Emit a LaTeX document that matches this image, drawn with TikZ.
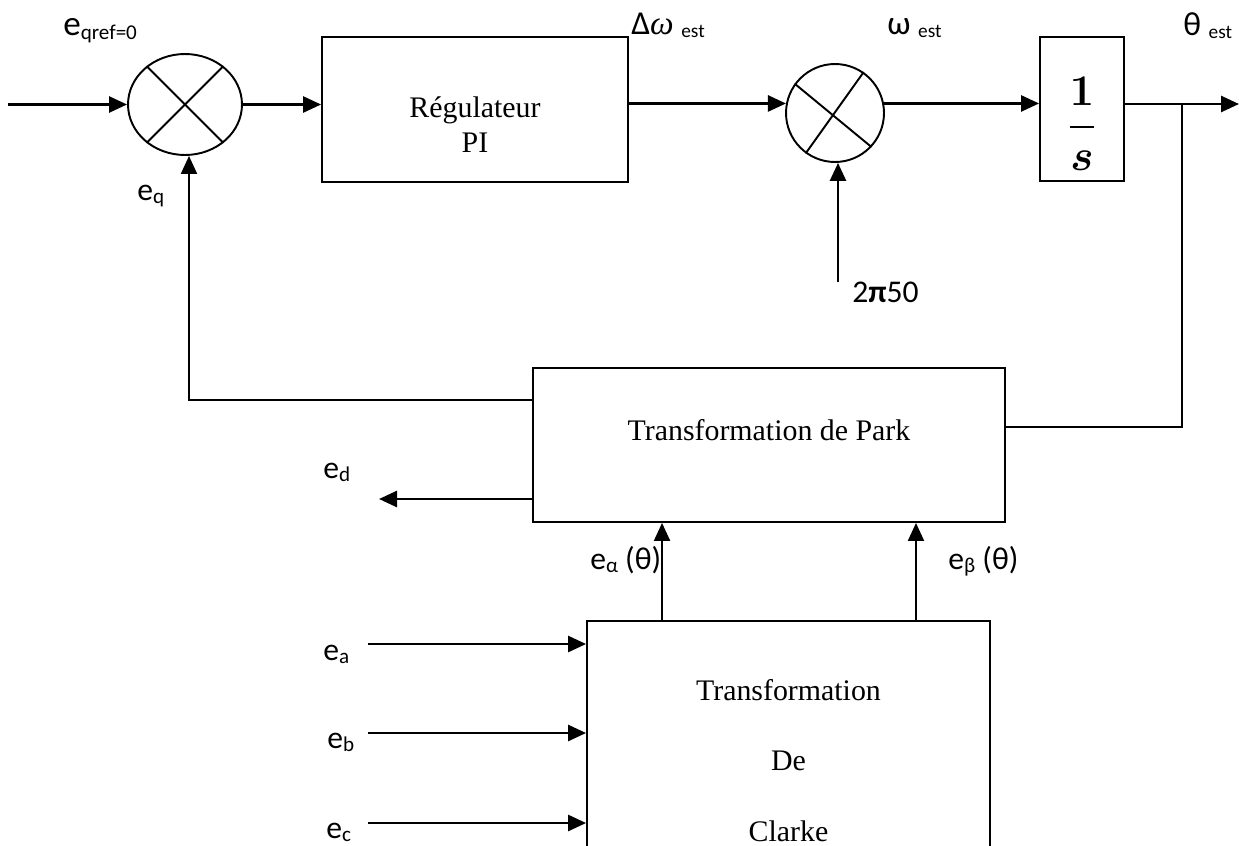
\documentclass[tikz,border=0pt]{standalone}
\usepackage{fontspec}
\usepackage{amsmath}
\usepackage{bm}
\setmainfont{Liberation Serif}
\newfontfamily\lblfont{Carlito}
\usetikzlibrary{shapes.geometric,arrows.meta}

\newcommand{\idx}[2][12]{\raisebox{-0.25ex}{\fontsize{#1}{#1}\selectfont #2}}

\tikzset{
  blok/.style={draw,line width=1.1pt,rectangle,inner sep=0pt},
  somme/.style={draw,line width=1.1pt,ellipse,inner sep=0pt},
  sig/.style={line width=1.5pt,->},
  sigfin/.style={line width=1.2pt,->},
  fil/.style={line width=1.1pt},
  lbl/.style={font=\lblfont\fontsize{18}{21}\selectfont,inner sep=0pt,anchor=base west},
  lblhaut/.style={lbl,font=\lblfont\fontsize{19}{22}\selectfont},
  ttl/.style={font=\fontsize{17}{20}\selectfont,align=center}
}

\begin{document}
\begin{tikzpicture}[x=0.02cm,y=-0.02cm,>={Triangle[length=0.36cm,width=0.32cm]}]
  \useasboundingbox (0,0) rectangle (1239,845);
  \clip (0,0) rectangle (1239,845);

  % blocs
  \node[somme,minimum width=2.28cm,minimum height=2.02cm] (sum1) at (185,104.5) {};
  \node[blok,minimum width=6.12cm,minimum height=2.9cm,
        label={[ttl,yshift=-0.3cm]center:Régulateur\\PI}] (pi) at (475,109.5) {};
  \node[somme,circle,minimum size=1.96cm] (sum2) at (835,113) {};
  \node[blok,minimum width=1.68cm,minimum height=2.88cm,
        label={[font=\fontsize{20}{24}\selectfont,yshift=-0.3cm]center:\scalebox{1.2}{$\bm{\dfrac{1}{s}}$}}] (inv) at (1082,109) {};
  \node[blok,minimum width=9.44cm,minimum height=3.08cm,
        label={[ttl,yshift=0.3cm]center:Transformation de Park}] (park) at (769,445) {};
  \node[blok,ttl,minimum width=8.06cm,minimum height=5.58cm] (clarke) at (788.5,760.5)
        {Transformation\\[20pt]De\\[20pt]Clarke};

  % croix des comparateurs
  \draw[fil] (sum1.135) -- (sum1.-45);
  \draw[fil] (sum1.-135) -- (sum1.45);
  \draw[fil] (sum2.144) -- (sum2.-43);
  \draw[fil] (sum2.-126) -- (sum2.55);

  % chaine directe
  \coordinate (in) at (8,104.5);
  \coordinate (out) at (1239,104);
  \coordinate (br) at (1182,104);
  \draw[sig] (in) -- (sum1.west);
  \draw[sig] (sum1.east) -- (sum1.east -| pi.west);
  \draw[sig] (sum2.169 -| pi.east) -- (sum2.169);
  \draw[sig] (sum2.11) -- (sum2.11 -| inv.west);
  \draw[sig] (inv.east |- out) -- (out);

  % retours
  \draw[fil] (br) |- ([yshift=0.36cm]park.east);
  \draw[sigfin] ([yshift=0.9cm]park.west) -| ([xshift=0.08cm]sum1.south);
  \coordinate (w0) at (838,282);
  \draw[sig] (w0) -- (w0 |- sum2.south);
  \coordinate (edout) at (379,499);
  \draw[sig] (edout -| park.west) -- (edout);
  \draw[sigfin] ([xshift=-2.53cm]clarke.north) -- ([xshift=-2.53cm]clarke.north |- park.south);
  \draw[sigfin] ([xshift=2.55cm]clarke.north) -- ([xshift=2.55cm]clarke.north |- park.south);

  % entrees de Clarke
  \coordinate (ea) at (368,644);
  \coordinate (eb) at (368,733);
  \coordinate (ec) at (368,823);
  \draw[sig] (ea) -- (ea -| clarke.west);
  \draw[sig] (eb) -- (eb -| clarke.west);
  \draw[sig] (ec) -- (ec -| clarke.west);

  % etiquettes
  \node[lbl,font=\lblfont\fontsize{20}{23}\selectfont] (lqref) at (63,35) {e\idx{qref=0}};
  \node[lblhaut] (ldw) at (631,34) {Δ{\rmfamily\itshape ω} \idx[11]{est}};
  \node[lblhaut] (lw) at (887,34) {ω \idx[11]{est}};
  \node[lblhaut] (lth) at (1183,35) {θ \idx[11]{est}};
  \node[lbl] (leq) at (137,200) {e\idx{q}};
  \node[lbl] (l2pi) at (852,302) {2\textbf{π}50};
  \node[lbl] (led) at (323,478) {e\idx{d}};
  \node[lbl] (lal) at (590,569) {e\idx{α} (θ)};
  \node[lbl] (lbe) at (948,569) {e\idx{β} (θ)};
  \node[lbl] (lea) at (323,660) {e\idx{a}};
  \node[lbl] (leb) at (327,748) {e\idx{b}};
  \node[lbl] (lec) at (326,838) {e\idx{c}};
\end{tikzpicture}
\end{document}
